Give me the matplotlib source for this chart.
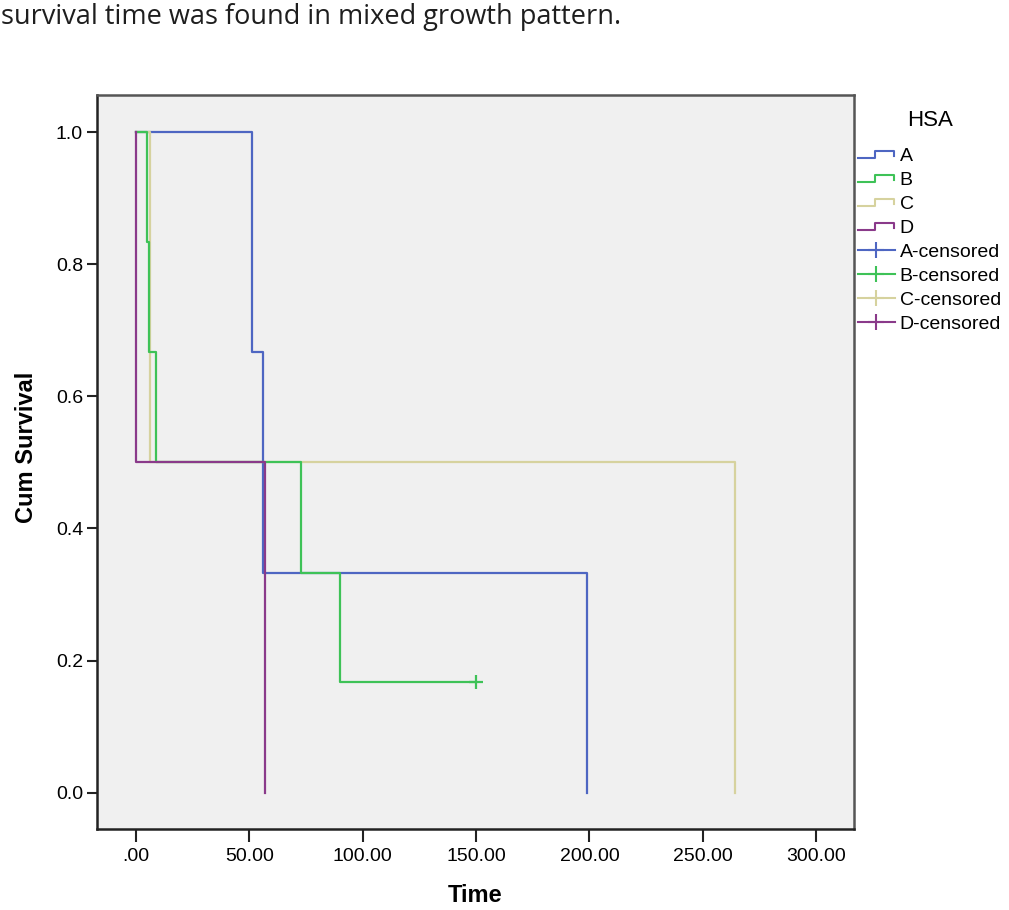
import numpy as np
import matplotlib
matplotlib.use("Agg")
import matplotlib.pyplot as plt
from matplotlib.lines import Line2D
from matplotlib.legend_handler import HandlerBase

plt.rcParams['font.family'] = ['Liberation Sans', 'DejaVu Sans']

# Kaplan-Meier steps (event time, survival after event)
groups = ["A", "B", "C", "D"]
a_time = [51.0, 56.0, 199.0]
a_surv = [0.667, 0.333, 0.0]
b_time = [4.7, 5.7, 8.7, 73.0, 90.0]
b_surv = [0.833, 0.667, 0.5, 0.333, 0.167]
b_cens_time = [150.0]
b_cens_surv = [0.167]
c_time = [6.0, 264.0]
c_surv = [0.5, 0.0]
d_time = [0.0, 57.0]
d_surv = [0.5, 0.0]

xticks = [0, 50, 100, 150, 200, 250, 300]
xtick_labels = [".00", "50.00", "100.00", "150.00", "200.00", "250.00", "300.00"]
yticks = [0.0, 0.2, 0.4, 0.6, 0.8, 1.0]
ytick_labels = ["0.0", "0.2", "0.4", "0.6", "0.8", "1.0"]

colors = {"A": "#4e66c2", "B": "#3ec257", "C": "#d6d29e", "D": "#8a3a8a"}
zorders = {"A": 2, "C": 3, "B": 4, "D": 5}


class StepHandler(HandlerBase):
    # little step glyph used by SPSS for survival curves
    def create_artists(self, legend, orig_handle, xdescent, ydescent,
                       width, height, fontsize, trans):
        lo = -ydescent + height * 0.2
        hi = -ydescent + height * 0.72
        x = np.array([0, 0.47, 0.47, 0.97, 0.97]) * width - xdescent
        y = [lo, lo, hi, hi, lo + 0.12 * height]
        line = Line2D(x, y, color=orig_handle.get_color(), lw=1.5, transform=trans)
        return [line]


fig = plt.figure(figsize=(10.09, 9.10), dpi=100)
fig.text(0.001, 0.997, "survival time was found in mixed growth pattern.",
         family="Open Sans", fontsize=19.5, color="#1e1e1e", va="top", ha="left")

ax = fig.add_axes([0.0961, 0.0890, 0.7503, 0.8066])
ax.set_facecolor("#f0f0f0")

data = {"A": (a_time, a_surv), "B": (b_time, b_surv),
        "C": (c_time, c_surv), "D": (d_time, d_surv)}
curve_handles = []
for g in groups:
    t, s = data[g]
    xs = [0.0] + list(t)
    ys = [1.0] + list(s)
    if g == "B":
        xs = xs + b_cens_time
        ys = ys + b_cens_surv
    ln, = ax.step(xs, ys, where="post", color=colors[g], lw=1.6, zorder=zorders[g])
    curve_handles.append(ln)

ax.plot(b_cens_time, b_cens_surv, linestyle="none", marker="+", markersize=10,
        mew=1.6, color=colors["B"], zorder=6)

ax.set_xlim(-17.2, 316.7)
ax.set_ylim(-0.055, 1.056)
ax.set_xticks(xticks)
ax.set_xticklabels(xtick_labels)
ax.set_yticks(yticks)
ax.set_yticklabels(ytick_labels)
ax.tick_params(axis="x", length=9, width=1.5, labelsize=14, pad=5, color="#222222")
ax.tick_params(axis="y", length=7, width=1.5, labelsize=14, pad=3, color="#222222")
for sp in ax.spines.values():
    sp.set_linewidth(1.8)
    sp.set_color("#222222")
ax.spines["top"].set_color("#555555")
ax.spines["right"].set_color("#555555")

ax.set_xlabel("Time", fontsize=17, fontweight="bold")
ax.set_ylabel("Cum Survival", fontsize=17, fontweight="bold")
ax.xaxis.set_label_coords(0.5, -0.075)
ax.yaxis.set_label_coords(-0.078, 0.52)

cens_handles = [Line2D([], [], color=colors[g], lw=1.5, marker="+",
                       markersize=12, mew=1.5) for g in groups]
handler_map = {h: StepHandler() for h in curve_handles}
labels = groups + [g + "-censored" for g in groups]
fig.legend(curve_handles + cens_handles, labels, handler_map=handler_map,
           loc="upper left", bbox_to_anchor=(858 / 1009, 1 - 147 / 910),
           frameon=False, fontsize=14, labelspacing=0.33, handlelength=1.9,
           handletextpad=0.25, borderpad=0, borderaxespad=0)
fig.text(930 / 1009, 1 - 120 / 910, "HSA", fontsize=16, ha="center", va="center")

fig.savefig("out.png", dpi=100)
